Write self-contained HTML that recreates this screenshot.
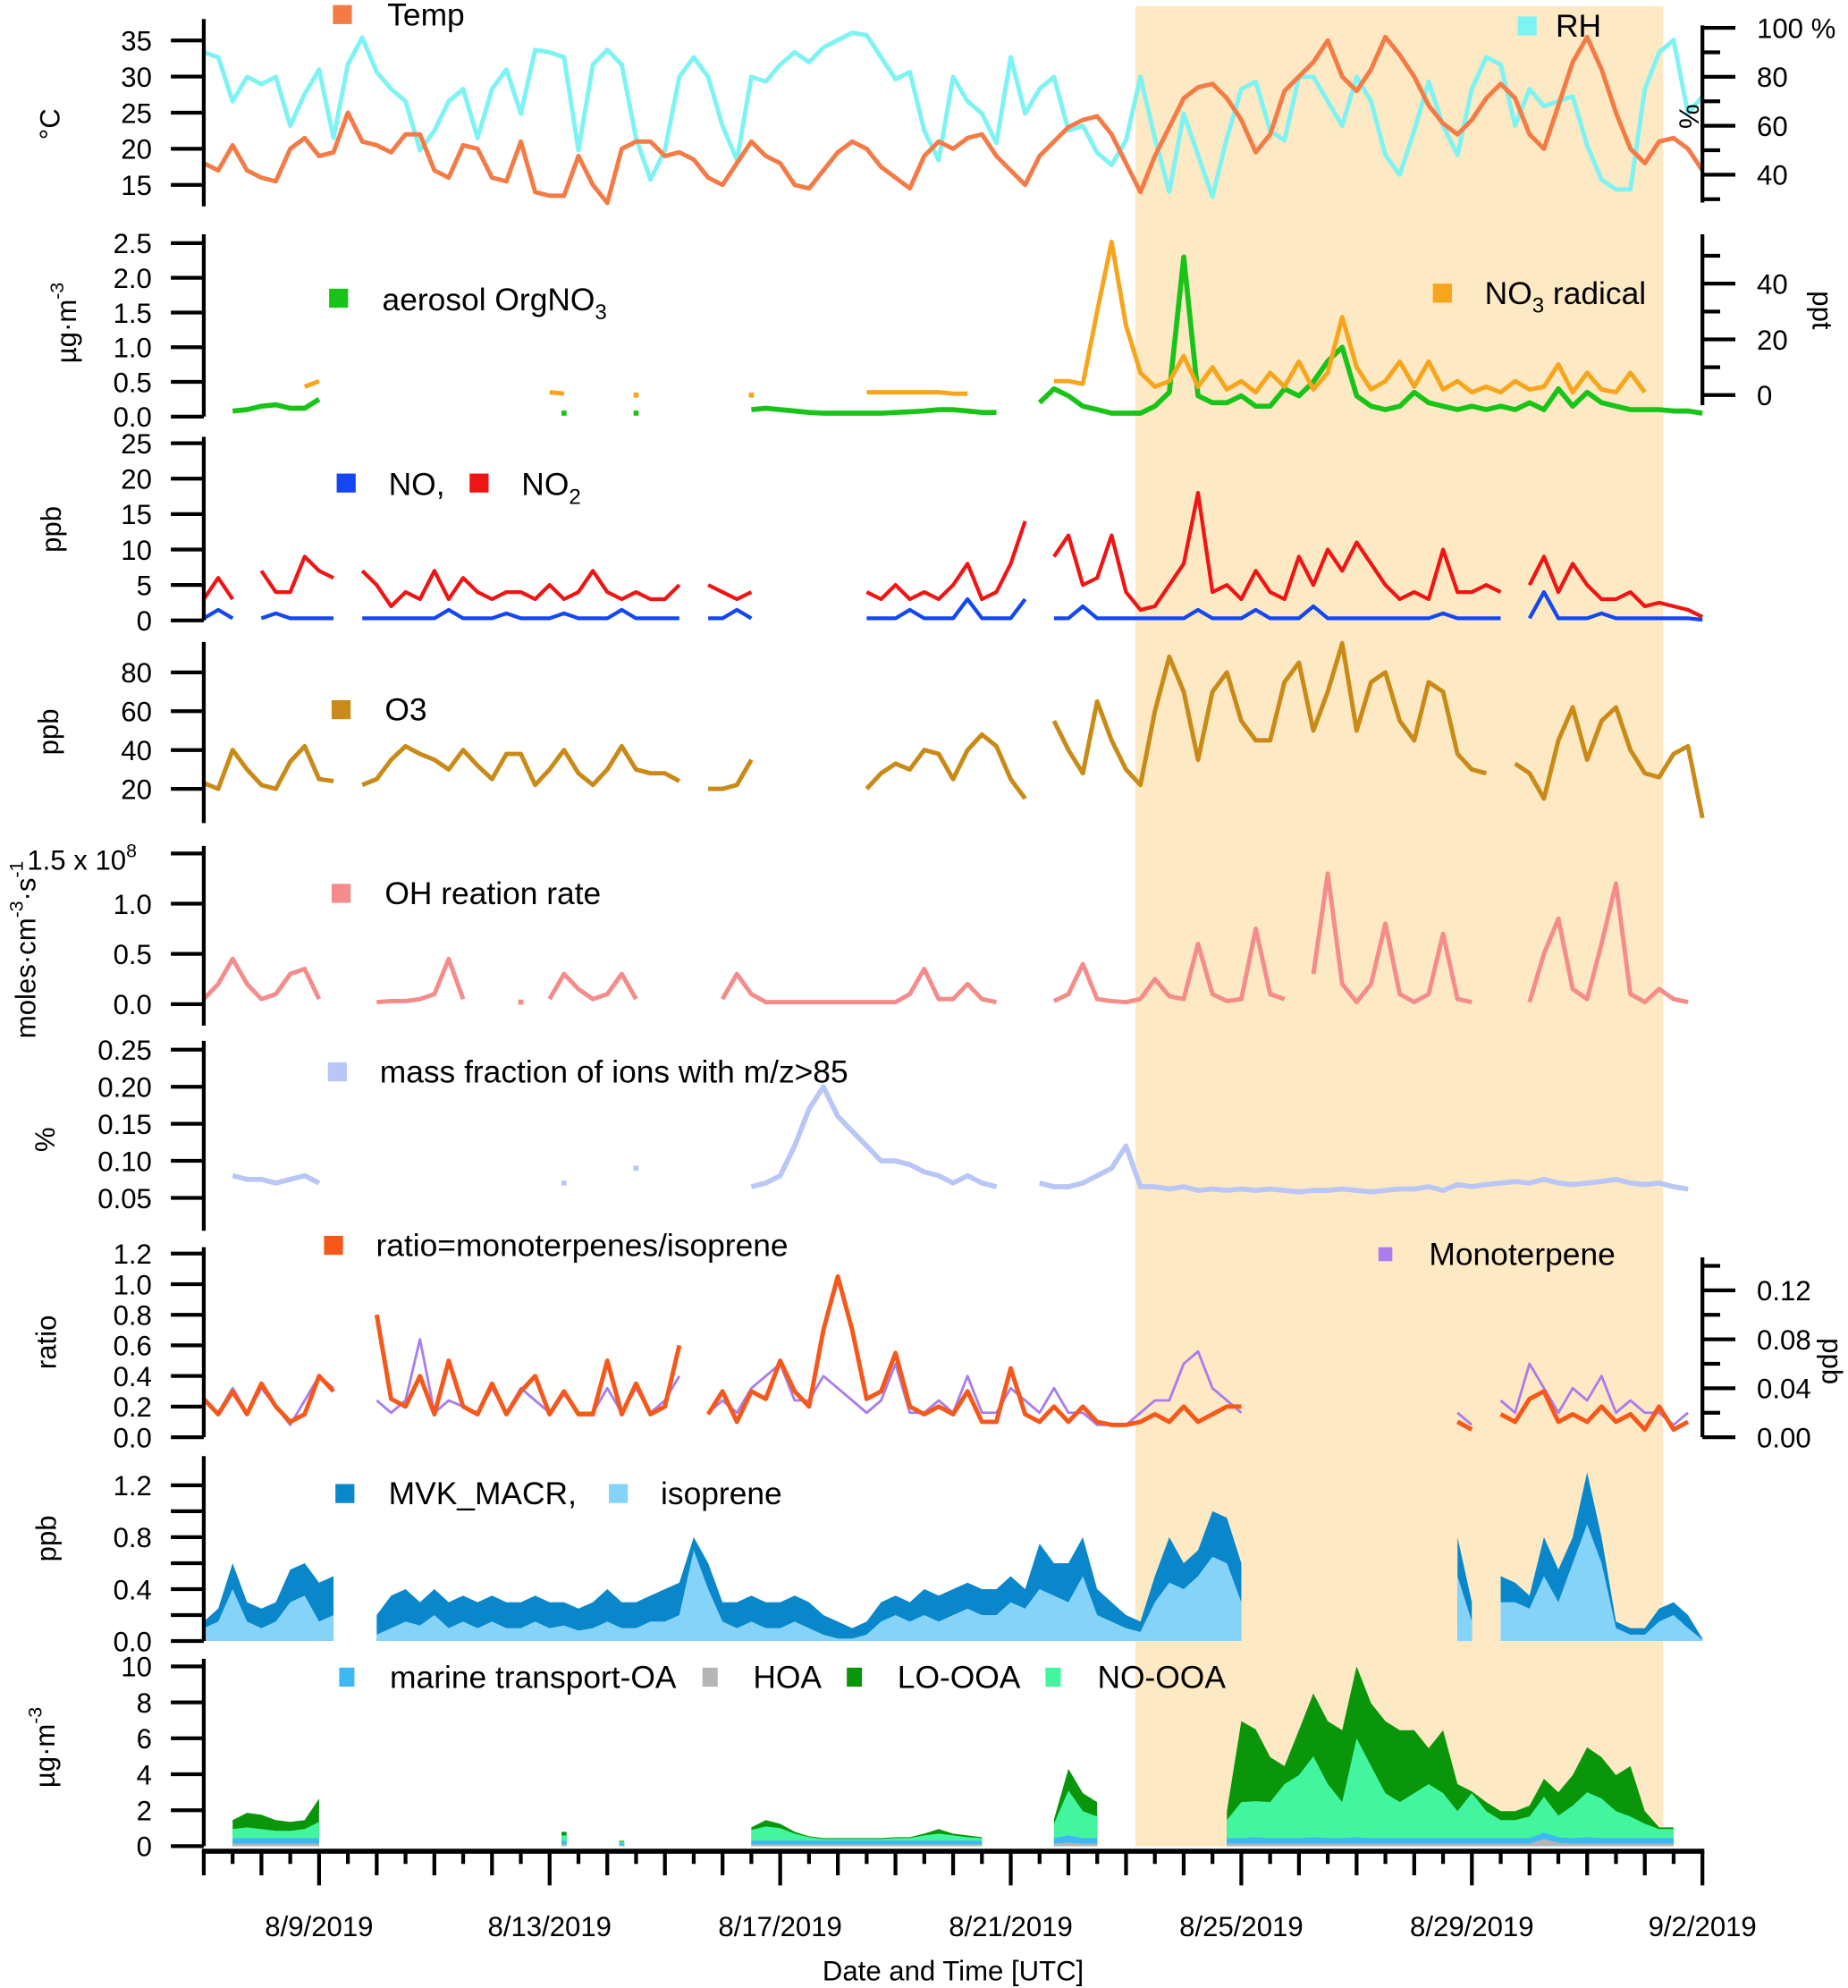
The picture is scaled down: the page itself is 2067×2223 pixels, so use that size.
<!DOCTYPE html>
<html><head><meta charset="utf-8"><title>Time series</title>
<style>
html,body{margin:0;padding:0;background:#fff;}
svg{display:block;font-family:"Liberation Sans",Arial,sans-serif;}
</style></head>
<body>
<svg id="chart" width="2067" height="2223" viewBox="0 0 1460 1570" preserveAspectRatio="none" xmlns="http://www.w3.org/2000/svg">
<rect x="897" y="5" width="417" height="1453" fill="#FDE9C3"/>
<g id="marks"></g>
<g id="axes" fill="#000" font-size="22"></g>
<g id="legends" font-size="25"></g>
</svg>
<script>
const _=null;
// time categories: 6-hourly points from 8/7/2019 00:00 to 9/2/2019 00:00
const dateLabels=["8/9/2019","8/13/2019","8/17/2019","8/21/2019","8/25/2019","8/29/2019","9/2/2019"];
const dateLabelDays=[2,6,10,14,18,22,26];
const temp=[18,17,20.5,17, 16,15.5,20,21.5, 19,19.5,25,21, 20.5,19.5,22,22, 17,16,20.5,20, 16,15.5,21,14, 13.5,13.5,19,15, 12.5,20,21,21, 19,19.5,18.5,16, 15,18,21,19, 18,15,14.5,17, 19.5,21,20,17.5, 16,14.5,19,21, 20,21.5,22,19, 17,15,19,21, 23,24,24.5,22, 18,14,19,23, 27,28.5,29,27, 24,19.5,22,28, 30,32,35,30, 28,31,35.5,33, 30,26,23.5,22, 24,27,29,27, 22,20,26,32, 35.5,31,25,20, 18,21,21.5,20, 17];
const rh=[90,88,70,80, 77,80,60,73, 83,55,85,96, 82,75,70,50, 58,70,75,55, 75,83,65,91, 90,88,50,85, 91,85,55,38, 50,80,88,80, 60,46,80,78, 85,90,86,92, 95,98,97,88, 79,82,58,46, 80,70,65,53, 88,65,75,80, 58,60,49,44, 54,80,55,33, 65,48,31,55, 75,78,58,54, 80,80,70,60, 80,70,48,40, 58,78,60,48, 75,88,85,60, 75,68,70,72, 52,38,34,34, 75,90,95,65, 72];
const orgNO3=[_,_,.08,.1, .15,.17,.12,.12, .25,_,_,_, _,_,_,_, _,_,_,_, _,_,_,_, _,.05,_,_, _,_,.05,_, _,_,_,_, _,_,.1,.12, .1,.08,.06,.05, .05,.05,.05,.05, .06,.07,.08,.1, .1,.08,.06,.06, _,_,.2,.4, .3,.15,.1,.05, .05,.05,.15,.35, 2.3,.3,.2,.2, .3,.15,.15,.4, .3,.5,.8,1.0, .3,.15,.1,.15, .35,.2,.15,.1, .15,.1,.15,.1, .2,.1,.4,.15, .35,.2,.15,.1, .1,.1,.08,.08, .05];
const no3Radical=[_,_,_,_, _,_,_,3, 5,_,_,_, _,_,_,_, _,_,_,_, _,_,_,_, 1,.5,_,_, _,_,0,_, _,_,_,_, _,_,0,_, _,_,_,_, _,_,1,1, 1,1,1,1, .5,.5,_,_, _,_,_,5, 5,4,30,55, 25,8,3,5, 14,3,10,2, 5,1,8,3, 12,2,8,28, 10,2,5,12, 3,12,2,5, 1,3,1,5, 2,3,11,1, 8,2,1,8, 1,_,_,_, _];
const no2=[3,6,3,_, 7,4,4,9, 7,6,_,7, 5,2,4,3, 7,3,6,4, 3,4,4,3, 5,3,4,7, 4,3,4,3, 3,5,_,5, 4,3,4,_, _,_,_,_, _,_,4,3, 5,3,4,3, 5,8,3,4, 8,14,_,9, 12,5,6,12, 4,1.5,2,5, 8,18,4,5, 3,7,4,3, 9,5,10,7, 11,8,5,3, 4,3,10,4, 4,5,4,_, 5,9,4,8, 5,3,3,4, 2,2.5,2,1.5, .5];
const no=[.3,1.5,.3,_, .3,1,.3,.3, .3,.3,_,.3, .3,.3,.3,.3, .3,1.5,.3,.3, .3,1,.3,.3, .3,1,.3,.3, .3,1.5,.3,.3, .3,.3,_,.3, .3,1.5,.3,_, _,_,_,_, _,_,.3,.3, .3,1.5,.3,.3, .3,3,.3,.3, .3,3,_,.3, .3,2,.3,.3, .3,.3,.3,.3, .3,1.5,.3,.3, .3,1.5,.3,.3, .3,2,.3,.3, .3,.3,.3,.3, .3,.3,1,.3, .3,.3,.3,_, .3,4,.3,.3, .3,1,.3,.3, .3,.3,.3,.3, .1];
const o3=[23,20,40,30, 22,20,34,42, 25,24,_,22, 25,35,42,38, 35,30,40,32, 25,38,38,22, 30,40,28,22, 30,42,30,28, 28,24,_,20, 20,22,35,_, _,_,_,_, _,_,20,28, 33,30,40,38, 25,40,48,42, 25,15,_,55, 40,28,65,45, 30,22,60,88, 70,35,70,80, 55,45,45,75, 85,50,70,95, 50,75,80,55, 45,75,70,38, 30,28,_,33, 28,15,45,62, 35,55,62,40, 28,26,38,42, 5];
const ohRate=[.05,.2,.45,.2, .05,.1,.3,.35, .05,_,_,_, .02,.03,.03,.05, .1,.45,.05,_, _,_,.02,_, .05,.3,.15,.05, .1,.3,.05,_, _,_,_,_, .05,.3,.1,.02, .02,.02,.02,.02, .02,.02,.02,.02, .02,.1,.35,.05, .05,.2,.05,.02, _,_,_,.03, .1,.4,.05,.03, .02,.05,.25,.08, .05,.6,.1,.03, .05,.75,.1,.05, _,.3,1.3,.2, .02,.2,.8,.1, .02,.1,.7,.05, .02,_,_,_, .02,.5,.85,.15, .05,.6,1.2,.1, .02,.15,.05,.02, _];
const massFrac=[_,_,.08,.075, .075,.07,.075,.08, .07,_,_,_, _,_,_,_, _,_,_,_, _,_,_,_, _,.07,_,_, _,_,.09,_, _,_,_,_, _,_,.065,.07, .08,.12,.17,.2, .16,.14,.12,.1, .1,.095,.085,.08, .07,.08,.07,.065, _,_,.07,.065, .065,.07,.08,.09, .12,.065,.065,.062, .065,.06,.062,.06, .062,.06,.062,.06, .058,.06,.06,.062, .06,.058,.06,.062, .062,.065,.06,.068, .065,.068,.07,.072, .07,.075,.07,.068, .07,.072,.075,.07, .068,.07,.065,.062, _];
const ratio=[.25,.15,.3,.15, .35,.2,.1,.15, .4,.3,_,_, .8,.25,.2,.4, .15,.5,.2,.15, .35,.15,.3,.4, .15,.3,.15,.15, .5,.15,.35,.15, .2,.6,_,.15, .3,.1,.3,.25, .5,.3,.2,.7, 1.05,.7,.25,.3, .55,.2,.15,.2, .15,.3,.1,.1, .45,.15,.1,.2, .1,.2,.1,.08, .08,.1,.15,.1, .2,.1,.15,.2, .2,_,_,_, _,_,_,_, _,_,_,_, _,_,_,.1, .05,_,.15,.1, .25,.3,.1,.15, .1,.2,.1,.15, .05,.2,.05,.1, _];
const monoterpene=[.03,.02,.04,.02, .04,.025,.01,.03, .05,.04,_,_, .03,.02,.03,.08, .02,.03,.025,.02, .04,.02,.04,.03, .02,.035,.02,.02, .04,.02,.04,.02, .03,.05,_,.02, .03,.02,.04,.05, .06,.03,.03,.05, .04,.03,.02,.03, .06,.02,.02,.03, .02,.05,.02,.02, .04,.03,.02,.04, .02,.02,.01,.01, .01,.02,.03,.03, .06,.07,.04,.03, .02,_,_,_, _,_,_,_, _,_,_,_, _,_,_,.02, .01,_,.03,.02, .06,.04,.02,.04, .03,.05,.02,.03, .02,.02,.01,.02, _];
const mvkMacr=[.15,.25,.6,.3, .25,.3,.55,.6, .45,.5,_,_, .2,.35,.4,.3, .4,.3,.35,.3, .35,.3,.3,.35, .3,.3,.25,.3, .4,.3,.3,.35, .4,.45,.8,.6, .3,.3,.35,.3, .3,.35,.3,.2, .15,.1,.15,.3, .35,.3,.4,.35, .4,.45,.4,.4, .5,.4,.75,.6, .6,.8,.4,.3, .2,.15,.5,.8, .6,.7,1.0,.95, .6,_,_,_, _,_,_,_, _,_,_,_, _,_,_,.8, .3,_,.5,.45, .35,.8,.55,.8, 1.3,.8,.15,.1, .1,.25,.3,.2, .02];
const isoprene=[.1,.15,.4,.15, .1,.15,.3,.35, .15,.2,_,_, .05,.1,.15,.12, .2,.1,.15,.1, .15,.1,.1,.15, .1,.12,.08,.1, .15,.1,.1,.15, .15,.2,.7,.4, .15,.1,.15,.1, .1,.15,.1,.05, .02,.02,.05,.15, .2,.15,.2,.15, .2,.25,.2,.2, .3,.25,.4,.35, .3,.5,.2,.15, .1,.07,.3,.45, .4,.5,.65,.6, .3,_,_,_, _,_,_,_, _,_,_,_, _,_,_,.5, .15,_,.3,.3, .25,.5,.3,.6, .9,.6,.1,.05, .05,.15,.2,.1, .01];
const hoa=[_,_,.15,.15, .15,.15,.15,.15, .15,_,_,_, _,_,_,_, _,_,_,_, _,_,_,_, _,.1,_,_, _,.05,_,_, _,_,_,_, _,_,.1,.1, .1,.1,.1,.1, .1,.1,.1,.1, .1,.1,.1,.1, .1,.1,.1,_, _,_,_,.15, .2,.15,.15,_, _,_,_,_, _,_,_,.15, .15,.15,.15,.15, .15,.15,.15,.15, .15,.15,.15,.15, .15,.15,.15,.15, .15,.15,.15,.15, .15,.4,.2,.15, .15,.15,.15,.15, .15,.15,.15,_, _];
const marineOA=[_,_,.3,.3, .3,.3,.3,.3, .3,_,_,_, _,_,_,_, _,_,_,_, _,_,_,_, _,.2,_,_, _,.1,_,_, _,_,_,_, _,_,.2,.2, .2,.2,.2,.2, .2,.2,.2,.2, .2,.2,.2,.2, .2,.2,.2,_, _,_,_,.3, .4,.3,.3,_, _,_,_,_, _,_,_,.3, .3,.35,.3,.3, .3,.35,.3,.3, .35,.3,.3,.3, .3,.3,.3,.3, .3,.3,.3,.3, .3,.35,.3,.3, .35,.3,.3,.3, .3,.3,.3,_, _];
const noOOA=[_,_,.5,.6, .5,.4,.4,.5, .9,_,_,_, _,_,_,_, _,_,_,_, _,_,_,_, _,.3,_,_, _,.1,_,_, _,_,_,_, _,_,.6,.8, .7,.4,.2,.1, .1,.1,.1,.1, .15,.15,.3,.4, .3,.2,.15,_, _,_,_,.8, 2.5,1.5,1.2,_, _,_,_,_, _,_,_,1, 2,2,2,3, 3.5,4.5,3,2, 5.5,4,2.5,2, 2.5,3,2.5,1.5, 2.5,1.5,1,1, 1.2,2,1.2,1.8, 2.5,2.2,1.5,1.2, .8,.5,.5,_, _];
const loOOA=[_,_,.5,.8, .8,.6,.5,.5, 1.3,_,_,_, _,_,_,_, _,_,_,_, _,_,_,_, _,.2,_,_, _,.05,_,_, _,_,_,_, _,_,.15,.35, .25,.1,.05,.05, .05,.05,.05,.05, .05,.05,.1,.25, .1,.1,.05,_, _,_,_,.25, 1.2,1,.8,_, _,_,_,_, _,_,_,.5, 4.5,4,2.5,1, 2.5,3.5,3.5,4, 4,3.5,4,4, 3.5,2,3.5,1.5, .1,.5,.5,.5, .6,1,1.3,1.7, 2.5,2.3,2,2.8, .7,.1,.1,_, _];

const SVGNS="http://www.w3.org/2000/svg";
const X0=161,X1=1345,NPTS=105;
function xAt(i){return X0+(X1-X0)*i/(NPTS-1);}
function xDay(d){return X0+(X1-X0)*d/26;}
function lin(v0,y0,v1,y1){return v=>y0+(v-v0)*(y1-y0)/(v1-v0);}
function mk(tag,attrs,parent){const e=document.createElementNS(SVGNS,tag);for(const k in attrs)e.setAttribute(k,attrs[k]);parent.appendChild(e);return e;}
const marks=document.getElementById('marks'),axes=document.getElementById('axes'),legends=document.getElementById('legends');

function segments(arr){const segs=[];let cur=[];arr.forEach((v,i)=>{if(v===null||v===undefined){if(cur.length)segs.push(cur);cur=[];}else cur.push(i);});if(cur.length)segs.push(cur);return segs;}
function drawLine(arr,yf,color,w,name){
  segments(arr).forEach(seg=>{
    if(seg.length===1){const i=seg[0];
      const c=mk('rect',{x:xAt(i)-2,y:yf(arr[i])-2,width:4,height:4,fill:color},marks);
      
      
      return;}
    const pts=seg.map(i=>xAt(i).toFixed(1)+','+yf(arr[i]).toFixed(1)).join(' ');
    const p=mk('polyline',{points:pts,fill:'none',stroke:color,'stroke-width':w,'stroke-linejoin':'round'},marks);
    
    
  });
}
function drawArea(arr,yf,color,name){
  const y0=yf(0);
  segments(arr).forEach(seg=>{
    let pts=seg.map(i=>xAt(i).toFixed(1)+','+yf(arr[i]).toFixed(1));
    if(seg.length===1){const i=seg[0];pts=[(xAt(i)-2)+','+yf(arr[i]),(xAt(i)+2)+','+yf(arr[i])];
      pts.push((xAt(i)+2)+','+y0,(xAt(i)-2)+','+y0);}
    else pts.push(xAt(seg[seg.length-1]).toFixed(1)+','+y0,xAt(seg[0]).toFixed(1)+','+y0);
    const p=mk('polygon',{points:pts.join(' '),fill:color},marks);
    
    
  });
}
function sumArr(a,b){return a.map((v,i)=>(v===null||b[i]===null)?null:v+b[i]);}

const yT=lin(15,146,35,32), yRH=lin(40,138,100,22);
const yOrg=lin(0,329,2.5,192), yNO3=lin(0,312,40,224);
const yNOx=lin(0,490,25,350), yO3=lin(20,623,80,531);
const yOH=lin(0,793,1.5,674), yMF=lin(.05,946,.25,829);
const yR=lin(0,1135,1.2,990), yMono=lin(0,1135,.12,1019);
const yMVK=lin(0,1296,1.2,1173), yPMF=lin(0,1458,10,1316);

drawLine(rh,yRH,'#7DF3F3',3.5,'rh-line');
drawLine(temp,yT,'#F47A46',3.5,'temp-line');
drawLine(orgNO3,yOrg,'#18C418',4,'orgno3-line');
drawLine(no3Radical,yNO3,'#F7A51C',3.5,'no3-radical-line');
drawLine(no2,yNOx,'#F01414',3,'no2-line');
drawLine(no,yNOx,'#1446F2',3,'no-line');
drawLine(o3,yO3,'#C98A17',3.5,'o3-line');
drawLine(ohRate,yOH,'#F58C8C',3.5,'oh-reaction-rate-points');
drawLine(massFrac,yMF,'#BAC6F6',4,'mass-fraction-points');
drawLine(monoterpene,yMono,'#A97DEB',2,'monoterpene-points');
drawLine(ratio,yR,'#F5581A',3.5,'ratio-points');
drawArea(mvkMacr,yMVK,'#0A87CB','mvk-macr-area');
drawArea(isoprene,yMVK,'#86D3FA','isoprene-area');
const c1=hoa, c2=sumArr(c1,marineOA), c3=sumArr(c2,noOOA), c4=sumArr(c3,loOOA);
drawArea(c4,yPMF,'#0A960A','lo-ooa-area');
drawArea(c3,yPMF,'#44F5A0','no-ooa-area');
drawArea(c2,yPMF,'#3DB8F5','marine-transport-oa-area');
drawArea(c1,yPMF,'#B5B5B5','hoa-area');

function vline(x,y1,y2,name){const l=mk('line',{x1:x,x2:x,y1:y1,y2:y2,stroke:'#000','stroke-width':3},axes);
  
  }
function ticksLeft(vals,yf,fmt,name){vals.forEach(v=>{const y=yf(v);
  const t=mk('line',{x1:135,x2:X0,y1:y,y2:y,stroke:'#000','stroke-width':3},axes);
  
  
  if(fmt){const tx=mk('text',{x:120,y:y+8,'text-anchor':'end'},axes);tx.textContent=fmt(v);
  
  }});}
function ticksRight(vals,yf,fmt,len,name){vals.forEach(v=>{const y=yf(v);
  const t=mk('line',{x1:X1,x2:X1+len,y1:y,y2:y,stroke:'#000','stroke-width':3},axes);
  
  
  if(fmt){const tx=mk('text',{x:1388,y:y+8},axes);tx.textContent=fmt(v);
  
  }});}
const f0=v=>String(v), f1=v=>v.toFixed(1), f2=v=>v.toFixed(2);
vline(X0,15,163,'temp-y-axis'); ticksLeft([15,20,25,30,35],yT,f0,'temp');
vline(X1,20,160,'rh-y-axis'); ticksRight([40,60,80],yRH,f0,26,'rh'); ticksRight([100],yRH,v=>'100 %',26,'rh');ticksRight([30,50,70,90],yRH,null,14,'rh-minor');
vline(X0,185,329,'orgno3-y-axis'); ticksLeft([0,.5,1,1.5,2,2.5],yOrg,f1,'orgno3');
vline(X1,185,320,'no3-y-axis'); ticksRight([0,20,40],yNO3,f0,26,'no3'); ticksRight([10,30,50],yNO3,null,14,'no3-minor');
vline(X0,345,490,'nox-y-axis'); ticksLeft([0,5,10,15,20,25],yNOx,f0,'nox');
vline(X0,507,650,'o3-y-axis'); ticksLeft([20,40,60,80],yO3,f0,'o3');
vline(X0,668,810,'oh-y-axis'); ticksLeft([0,.5,1],yOH,f1,'oh'); ticksLeft([1.5],yOH,null,'oh');
vline(X0,822,972,'massfrac-y-axis'); ticksLeft([.05,.1,.15,.2,.25],yMF,f2,'massfrac');
vline(X0,985,1135,'ratio-y-axis'); ticksLeft([0,.2,.4,.6,.8,1,1.2],yR,f1,'ratio');
vline(X1,993,1135,'monoterpene-y-axis'); ticksRight([0,.04,.08,.12],yMono,f2,26,'monoterpene'); ticksRight([.02,.06,.1,.14],yMono,null,14,'monoterpene-minor');
vline(X0,1150,1296,'mvk-y-axis'); ticksLeft([0,.4,.8,1.2],yMVK,f1,'mvk'); ticksLeft([.2,.6,1.0],yMVK,null,'mvk-minor');
vline(X0,1310,1458,'pmf-y-axis'); ticksLeft([0,2,4,6,8,10],yPMF,f0,'pmf');

const xa=mk('line',{x1:X0-1.5,x2:X1+1.5,y1:1462,y2:1462,stroke:'#000','stroke-width':4},axes);


for(let h=0;h<=52;h++){const d=h/2;const len=(h%8===4)?27:(h%2===0?19:10);
  const t=mk('line',{x1:xDay(d),x2:xDay(d),y1:1462,y2:1462+len,stroke:'#000','stroke-width':3},axes);
  
  }
dateLabels.forEach((s,k)=>{const t=mk('text',{x:xDay(dateLabelDays[k]),y:1529,'text-anchor':'middle'},axes);t.textContent=s;
  
  });

axes.insertAdjacentHTML('beforeend',`
<text x="753" y="1564" text-anchor="middle">Date and Time [UTC]</text>
<text transform="translate(47,98) rotate(-90)" text-anchor="middle">°C</text>
<text transform="translate(1327,92) rotate(90)" text-anchor="middle">%</text>
<text transform="translate(60,255) rotate(-90)" text-anchor="middle">µg·m<tspan dy="-10" font-size="15">-3</tspan></text>
<text transform="translate(1432,245) rotate(90)" text-anchor="middle">ppt</text>
<text transform="translate(48,418) rotate(-90)" text-anchor="middle">ppb</text>
<text transform="translate(46,578) rotate(-90)" text-anchor="middle">ppb</text>
<text transform="translate(28,750) rotate(-90)" text-anchor="middle">moles·cm<tspan dy="-10" font-size="15">-3</tspan><tspan dy="10">·s</tspan><tspan dy="-10" font-size="15">-1</tspan></text>
<text x="108" y="687" text-anchor="end">1.5 x 10<tspan dy="-10" font-size="15">8</tspan></text>
<text transform="translate(43,900) rotate(-90)" text-anchor="middle">%</text>
<text transform="translate(44,1060) rotate(-90)" text-anchor="middle">ratio</text>
<text transform="translate(1440,1075) rotate(90)" text-anchor="middle">ppb</text>
<text transform="translate(44,1215) rotate(-90)" text-anchor="middle">ppb</text>
<text transform="translate(43,1380) rotate(-90)" text-anchor="middle">µg·m<tspan dy="-10" font-size="15">-3</tspan></text>`);
legends.insertAdjacentHTML('beforeend',`
<g><rect x="263" y="4" width="15" height="15" fill="#F47A46"/><text x="306" y="20">Temp</text></g>
<g><rect x="1199" y="13" width="15" height="15" fill="#7DF3F3"/><text x="1229" y="29">RH</text></g>
<g><rect x="260" y="228" width="15" height="15" fill="#18C418"/><text x="302" y="245">aerosol OrgNO<tspan dy="7" font-size="17">3</tspan></text></g>
<g><rect x="1132" y="224" width="15" height="15" fill="#F7A51C"/><text x="1173" y="240">NO<tspan dy="7" font-size="17">3</tspan><tspan dy="-7"> radical</tspan></text></g>
<g><rect x="266" y="374" width="15" height="15" fill="#1446F2"/><text x="307" y="391">NO,</text></g>
<g><rect x="371" y="374" width="15" height="15" fill="#F01414"/><text x="412" y="391">NO<tspan dy="7" font-size="17">2</tspan></text></g>
<g><rect x="262" y="553" width="15" height="15" fill="#C98A17"/><text x="304" y="569">O3</text></g>
<g><rect x="262" y="698" width="15" height="15" fill="#F58C8C"/><text x="304" y="714">OH reation rate</text></g>
<g><rect x="259" y="839" width="15" height="15" fill="#BAC6F6"/><text x="300" y="855">mass fraction of ions with m/z&gt;85</text></g>
<g><rect x="256" y="976" width="15" height="15" fill="#F5581A"/><text x="297" y="992">ratio=monoterpenes/isoprene</text></g>
<g><rect x="1089" y="985" width="11" height="11" fill="#A97DEB"/><text x="1129" y="999">Monoterpene</text></g>
<g><rect x="265" y="1172" width="15" height="15" fill="#0A87CB"/><text x="307" y="1188">MVK_MACR,</text></g>
<g><rect x="481" y="1172" width="15" height="15" fill="#86D3FA"/><text x="522" y="1188">isoprene</text></g>
<g><rect x="268" y="1317" width="12" height="15" fill="#3DB8F5"/><text x="308" y="1333">marine transport-OA</text></g>
<g><rect x="555" y="1317" width="12" height="15" fill="#B5B5B5"/><text x="595" y="1333">HOA</text></g>
<g><rect x="669" y="1317" width="12" height="15" fill="#0A960A"/><text x="709" y="1333">LO-OOA</text></g>
<g><rect x="826" y="1317" width="12" height="15" fill="#44F5A0"/><text x="867" y="1333">NO-OOA</text></g>`);
</script>
</body></html>
